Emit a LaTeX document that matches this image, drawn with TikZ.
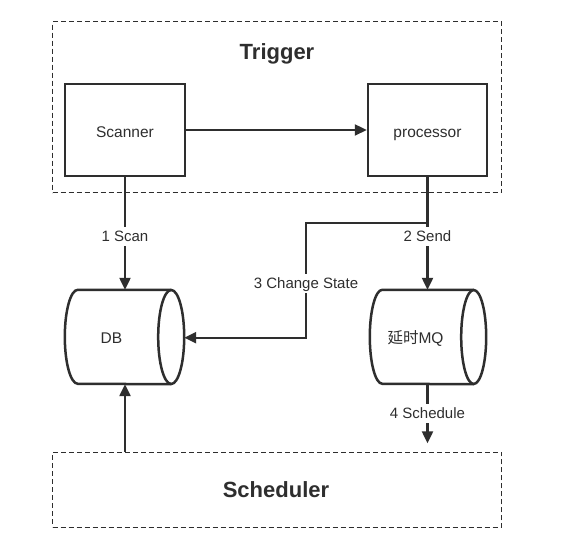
\documentclass[tikz,border=0pt]{standalone}
\usepackage{fontspec}
\setmainfont{Liberation Sans}
\newfontfamily\cjk{Noto Sans CJK SC}
\usetikzlibrary{arrows.meta}
\definecolor{ink}{HTML}{2E2E2E}
\tikzset{
  boxnode/.style={draw=ink, line width=2.5pt, minimum width=120pt, minimum height=92pt, font=\fontsize{15.5}{18}\selectfont, text=ink, text height=16pt, text depth=1.6pt},
  cylnode/.style={minimum width=93pt, minimum height=94pt, inner sep=0pt, font=\fontsize{15.5}{18}\selectfont, text=ink, text height=15pt, text depth=1.6pt},
  cylline/.style={draw=ink, line width=2.5pt},
  group/.style={draw=ink, line width=1.2pt, dash pattern=on 5pt off 3pt},
  title/.style={font=\fontsize{22}{26}\selectfont\bfseries, text=ink, text height=16pt, text depth=0pt},
  conn/.style={draw=ink, line width=2.3pt, -{Triangle[length=12pt,width=11pt]}},
  lbl/.style={fill=white, inner sep=2pt, font=\fontsize{15}{18}\selectfont, text=ink, text height=13pt, text depth=2pt}
}
\begin{document}
\begin{tikzpicture}[x=1pt,y=1pt]
\useasboundingbox[fill=white] (0,0) rectangle (579,540);
% groups
\node[group, minimum width=449pt, minimum height=171pt] (trig) at (277,432.8) {};
\node[title] (trigt) at (277,488.3) {Trigger};
\node[group, minimum width=449pt, minimum height=75pt] (sched) at (277,50.2) {};
\node[title] (schedt) at (276,50) {Scheduler};
% boxes
\node[boxnode] (scan) at (125,410) {Scanner};
\node[boxnode, minimum width=119pt] (proc) at (427.5,410) {processor};
% cylinders (node = body left of the end ellipse)
\node[cylnode] (db) at (111.5,203) {DB};
\node[cylnode, minimum width=91pt] (mq) at (415.5,203) {{\cjk 延时}MQ};
\coordinate (dbr) at ([xshift=26pt]db.east);
\foreach \c/\r in {db/13, mq/12.5}{
  \draw[cylline] ([xshift=\r pt]\c.east) ellipse[x radius=\r pt, y radius=47pt];
  \draw[cylline] ([xshift=\r pt]\c.north east) -- ([xshift=\r pt]\c.north west)
     arc[start angle=90, end angle=270, x radius=\r pt, y radius=47pt]
     -- ([xshift=\r pt]\c.south east);
}
% connectors
\draw[conn] (scan.east) -- (proc.west);
\draw[conn] (scan.south) -- node[lbl, pos=0.524] (l1) {1 Scan} (scan.south |- db.north);
\draw[conn] (proc.south) -- node[lbl, pos=0.524] (l2) {2 Send} (proc.south |- mq.north);
\coordinate (cs1) at (427.5,316.7);
\coordinate (cs2) at (306,316.7);
\coordinate (cs3) at (306,202.3);
\draw[conn] (cs1) -- (cs2) -- node[lbl, pos=0.524] (l3) {3 Change State} (cs3) -- (dbr |- cs3);
\coordinate (sch) at (427.5,96.7);
\draw[conn] (proc.south |- mq.south) -- node[lbl, pos=0.494] (l4) {4 Schedule} (sch);
\draw[conn] (sched.north -| scan.south) -- (scan.south |- db.south);
\end{tikzpicture}
\end{document}
